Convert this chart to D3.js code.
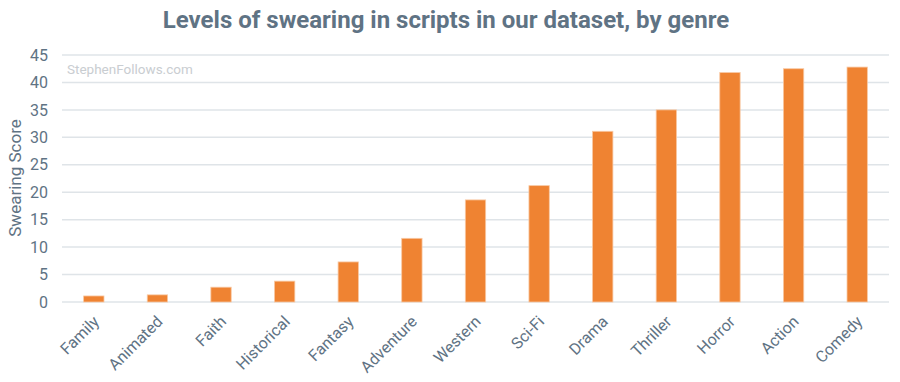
<!DOCTYPE html>
<html>
<head>
<meta charset="utf-8">
<script src="https://cdn.jsdelivr.net/npm/d3@7"></script>
<style>
  body { margin: 0; background: #fff; }
  svg { display: block; font-family: Roboto, "Open Sans", sans-serif; }
</style>
</head>
<body>
<div id="chart"></div>
<script>
var genres = ['Family', 'Animated', 'Faith', 'Historical', 'Fantasy', 'Adventure', 'Western',
              'Sci-Fi', 'Drama', 'Thriller', 'Horror', 'Action', 'Comedy'];
var scores = [1.1, 1.3, 2.7, 3.8, 7.3, 11.6, 18.6, 21.2, 31.1, 35.0, 41.8, 42.5, 42.8];
var yTicks = [0, 5, 10, 15, 20, 25, 30, 35, 40, 45];

var width = 900,
    height = 382,
    margin = {top: 55, right: 11, bottom: 80, left: 62};

var textColor = '#5f7384';

var svg = d3.select('#chart').append('svg')
    .attr('width', width)
    .attr('height', height);

// title
svg.append('text')
    .attr('x', 446)
    .attr('y', 28)
    .attr('text-anchor', 'middle')
    .style('font-size', '24px')
    .style('font-weight', 'bold')
    .style('fill', textColor)
    .text('Levels of swearing in scripts in our dataset, by genre');

var x = d3.scaleBand()
    .domain(genres)
    .range([margin.left, width - margin.right])
    .paddingInner(0.68)
    .paddingOuter(0.34);

var y = d3.scaleLinear()
    .domain([0, 45])
    .range([height - margin.bottom, margin.top]);

// grid lines
svg.append('g')
    .selectAll('line')
    .data(yTicks)
    .enter().append('line')
    .attr('x1', margin.left)
    .attr('x2', width - margin.right)
    .attr('y1', function(d) { return y(d); })
    .attr('y2', function(d) { return y(d); })
    .attr('stroke', '#dfe4e8')
    .attr('stroke-width', 1.5);

// y axis labels
var yAxis = svg.append('g')
    .attr('transform', 'translate(' + (margin.left - 14) + ',0)')
    .call(d3.axisLeft(y).tickValues(yTicks).tickSize(0).tickPadding(0));
yAxis.select('.domain').remove();
yAxis.selectAll('text')
    .style('font-size', '16px')
    .style('font-family', 'Roboto, sans-serif')
    .style('fill', textColor);

// y axis title
svg.append('text')
    .attr('transform', 'translate(21,' + 178 + ') rotate(-90)')
    .attr('text-anchor', 'middle')
    .style('font-size', '17px')
    .style('fill', textColor)
    .text('Swearing Score');

// watermark
svg.append('text')
    .attr('x', 67)
    .attr('y', 74)
    .style('font-size', '13.5px')
    .style('fill', '#c9cdd1')
    .text('StephenFollows.com');

// bars
svg.append('g')
    .selectAll('rect')
    .data(genres)
    .enter().append('rect')
    .attr('x', function(d) { return x(d); })
    .attr('width', x.bandwidth())
    .attr('y', function(d, i) { return y(scores[i]); })
    .attr('height', function(d, i) { return y(0) - y(scores[i]); })
    .attr('fill', '#ef8332')
    .attr('stroke', '#f8c9a4')
    .attr('stroke-width', 0.8);

// x axis labels
var xAxis = svg.append('g')
    .attr('transform', 'translate(0,' + (height - margin.bottom + 11) + ')')
    .call(d3.axisBottom(x).tickSize(0).tickPadding(0));
xAxis.select('.domain').remove();
xAxis.selectAll('text')
    .attr('transform', 'rotate(-45)')
    .attr('text-anchor', 'end')
    .attr('dx', '-0.15em')
    .attr('dy', '0.7em')
    .style('font-size', '16px')
    .style('font-family', 'Roboto, sans-serif')
    .style('fill', textColor);
</script>
</body>
</html>
